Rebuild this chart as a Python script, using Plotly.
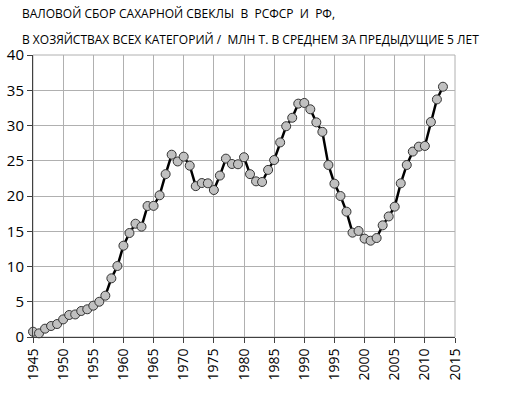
import plotly.graph_objects as go

years = list(range(1945, 2014))
values = [0.75, 0.52, 1.18, 1.56, 1.84, 2.5, 3.12, 3.2, 3.69, 3.93,
          4.44, 5.0, 5.86, 8.32, 10.07, 12.95, 14.75, 16.07, 15.65, 18.58,
          18.6, 20.1, 23.1, 25.86, 24.9, 25.58, 24.3, 21.4, 21.84, 21.8,
          20.85, 22.9, 25.3, 24.54, 24.5, 25.5, 23.1, 22.08, 21.99, 23.7,
          25.1, 27.6, 29.9, 31.1, 33.1, 33.2, 32.3, 30.45, 29.1, 24.4,
          21.75, 20.0, 17.78, 14.8, 15.04, 13.95, 13.66, 14.04, 15.84, 17.1,
          18.49, 21.8, 24.4, 26.3, 27.0, 27.1, 30.5, 33.7, 35.5]
x_ticks = list(range(1945, 2016, 5))
y_ticks = list(range(0, 41, 5))
title_lines = ["ВАЛОВОЙ СБОР САХАРНОЙ СВЕКЛЫ  В  РСФСР  И  РФ,",
               "В ХОЗЯЙСТВАХ ВСЕХ КАТЕГОРИЙ /  МЛН Т. В СРЕДНЕМ ЗА ПРЕДЫДУЩИЕ 5 ЛЕТ"]

font_family = "Open Sans, Noto Sans, sans-serif"

fig = go.Figure()
fig.add_trace(go.Scatter(
    x=years, y=values, mode="lines+markers",
    line=dict(color="black", width=2.5),
    marker=dict(size=9, color="#c0c0c0", line=dict(color="#333333", width=1)),
    cliponaxis=False, showlegend=False, hoverinfo="skip",
))

fig.update_layout(
    width=518, height=395,
    margin=dict(l=33, r=63, t=55, b=58),
    paper_bgcolor="white", plot_bgcolor="white",
    font=dict(family=font_family, color="black"),
)

for line, ypos in zip(title_lines, [1.1454, 1.0566]):
    fig.add_annotation(text=line.replace(" ", "&nbsp;"),
                       xref="paper", yref="paper", x=-0.031, y=ypos,
                       xanchor="left", yanchor="middle", align="left", showarrow=False,
                       font=dict(size=12, family=font_family, color="black"))

fig.update_xaxes(range=[1945, 2015], tickvals=x_ticks, ticktext=[str(t) for t in x_ticks],
                 tickangle=-90, tickfont=dict(size=14), automargin=False,
                 showgrid=True, gridcolor="#b0b0b0", gridwidth=1,
                 showline=True, linecolor="#404040", linewidth=1,
                 ticks="outside", ticklen=5, tickcolor="#404040",
                 mirror=False, zeroline=False)
fig.update_yaxes(range=[0, 40], tickvals=y_ticks, tickfont=dict(size=15), automargin=False,
                 showgrid=True, gridcolor="#b0b0b0", gridwidth=1,
                 showline=True, linecolor="#404040", linewidth=1,
                 ticks="outside", ticklen=5, tickcolor="#404040",
                 zeroline=False)

fig.add_shape(type="rect", xref="paper", yref="paper", x0=0, y0=0, x1=1, y1=1,
              line=dict(color="#b0b0b0", width=1), layer="below")

fig.write_html("out.html", config={"displayModeBar": False},
               post_script="document.body.style.margin='0';")
